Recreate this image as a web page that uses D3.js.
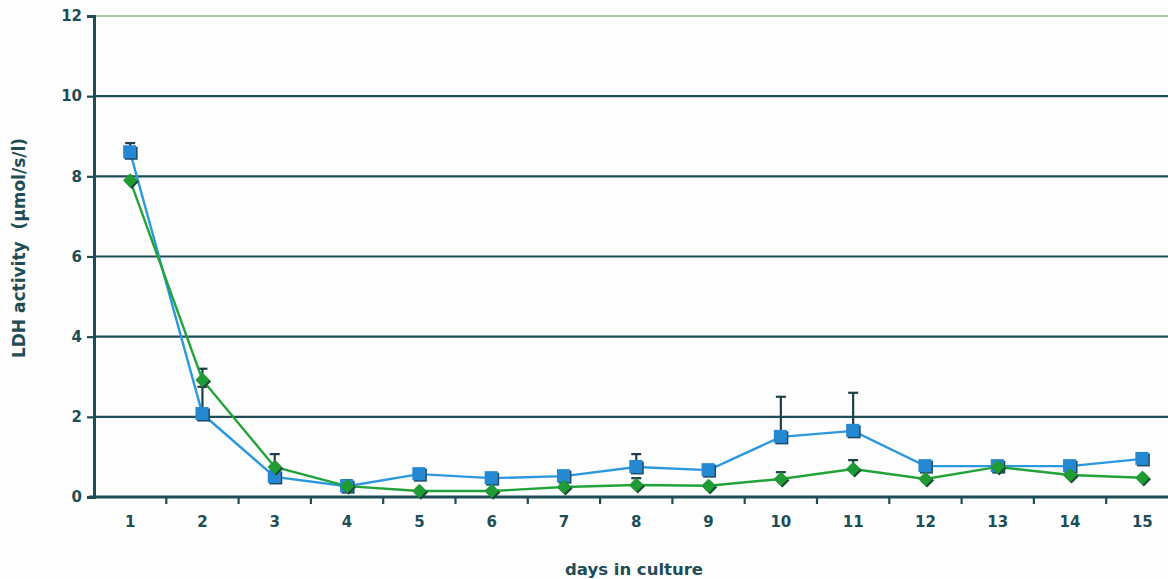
<!DOCTYPE html>
<html>
<head>
<meta charset="utf-8">
<script src="https://cdn.jsdelivr.net/npm/d3@7"></script>
<style>
  html, body { margin: 0; padding: 0; background: #fdfdfe; }
  svg { display: block; }
  text { font-family: "DejaVu Sans", Verdana, sans-serif; font-weight: bold; fill: #1e4d56; white-space: pre; }
</style>
</head>
<body>
<svg id="chart" width="1168" height="579"></svg>
<script>
// Days in culture
const days = [1, 2, 3, 4, 5, 6, 7, 8, 9, 10, 11, 12, 13, 14, 15];
// LDH activity, series A (blue squares) and its upper error
const seriesA = [8.6, 2.07, 0.5, 0.27, 0.57, 0.47, 0.52, 0.75, 0.67, 1.5, 1.65, 0.77, 0.77, 0.77, 0.95];
const errA    = [0.23, 0.68, 0, 0, 0, 0, 0, 0.32, 0, 1.0, 0.95, 0, 0, 0, 0.13];
// LDH activity, series B (green diamonds) and its upper error
const seriesB = [7.9, 2.92, 0.75, 0.27, 0.15, 0.15, 0.25, 0.3, 0.28, 0.45, 0.7, 0.45, 0.75, 0.55, 0.48];
const errB    = [0, 0.28, 0.32, 0.15, 0, 0, 0, 0.17, 0, 0.17, 0.22, 0, 0, 0, 0];
const yTicks = [0, 2, 4, 6, 8, 10, 12];

(function () {
const svg = d3.select("#chart");
const mLeft = 94, mTop = 16, mBottom = 497;
const band = 72.3;
const mRight = mLeft + band * days.length;

const x = d3.scaleBand().domain(days).range([mLeft, mRight]).paddingInner(0).paddingOuter(0);
const y = d3.scaleLinear().domain([0, 12]).range([mBottom, mTop]);
const cx = d => x(d) + x.bandwidth() / 2;

const axisColor = "#1e4d56";

// horizontal gridlines
svg.append("g").selectAll("line").data(yTicks.filter(t => t > 0)).join("line")
  .attr("x1", mLeft).attr("x2", 1168)
  .attr("y1", d => y(d)).attr("y2", d => y(d))
  .attr("stroke", d => d === 12 ? "#a9c9a4" : axisColor)
  .attr("stroke-width", 2.2);

// y axis
const yAxis = svg.append("g").attr("transform", `translate(${mLeft},0)`)
  .call(d3.axisLeft(y).tickValues(yTicks).tickSize(7).tickPadding(5));
yAxis.select(".domain").attr("stroke", axisColor).attr("stroke-width", 3);
yAxis.selectAll(".tick line").attr("stroke", axisColor).attr("stroke-width", 2.2);
yAxis.selectAll(".tick text").style("font-size", "15px").attr("fill", axisColor);

// x axis
const xAxis = svg.append("g").attr("transform", `translate(0,${mBottom})`)
  .call(d3.axisBottom(x).tickSize(0).tickPadding(19));
xAxis.select(".domain").remove();
svg.append("line").attr("x1", mLeft - 5).attr("x2", 1168).attr("y1", mBottom).attr("y2", mBottom)
  .attr("stroke", axisColor).attr("stroke-width", 3);
svg.append("g").selectAll("line").data(days).join("line")
  .attr("x1", d => x(d) + x.bandwidth()).attr("x2", d => x(d) + x.bandwidth())
  .attr("y1", mBottom).attr("y2", mBottom + 7)
  .attr("stroke", axisColor).attr("stroke-width", 2.2);
xAxis.selectAll(".tick text").style("font-size", "15px").attr("fill", axisColor);

// axis titles
svg.append("text").attr("x", 634).attr("y", 575).attr("text-anchor", "middle")
  .style("font-size", "16.5px").text("days in culture");
svg.append("text").attr("transform", "translate(25,248) rotate(-90)").attr("text-anchor", "middle")
  .style("font-size", "17px").text("LDH activity  (µmol/s/l)");

// error bars (upper only)
function errorBars(vals, errs) {
  const g = svg.append("g");
  const data = days.map((d, i) => ({ d, v: vals[i], e: errs[i] })).filter(p => p.e > 0);
  g.selectAll("line.v").data(data).join("line")
    .attr("x1", p => cx(p.d)).attr("x2", p => cx(p.d))
    .attr("y1", p => y(p.v)).attr("y2", p => y(p.v + p.e))
    .attr("stroke", "#1d3f48").attr("stroke-width", 2.2);
  g.selectAll("line.c").data(data).join("line")
    .attr("x1", p => cx(p.d) - 5).attr("x2", p => cx(p.d) + 5)
    .attr("y1", p => y(p.v + p.e)).attr("y2", p => y(p.v + p.e))
    .attr("stroke", "#1d3f48").attr("stroke-width", 2.2);
}
errorBars(seriesA, errA);
errorBars(seriesB, errB);

const line = d3.line().x((d, i) => cx(days[i])).y(d => y(d));

// series A line
svg.append("path").datum(seriesA).attr("d", line)
  .attr("fill", "none").attr("stroke", "#2b97dd").attr("stroke-width", 2.4);
// series B line
svg.append("path").datum(seriesB).attr("d", line)
  .attr("fill", "none").attr("stroke", "#22a33a").attr("stroke-width", 2.4);

// series A squares, with a dark offset shadow
const sq = svg.append("g");
sq.selectAll("rect.s").data(seriesA).join("rect").attr("class", "s")
  .attr("x", (d, i) => cx(days[i]) - 5.5).attr("y", d => y(d) - 5.5)
  .attr("width", 13).attr("height", 13).attr("fill", "#1c4d68");
sq.selectAll("rect.m").data(seriesA).join("rect").attr("class", "m")
  .attr("x", (d, i) => cx(days[i]) - 7).attr("y", d => y(d) - 7)
  .attr("width", 13).attr("height", 13).attr("fill", "#2488d2");

// series B diamonds, with a dark offset shadow
const diamond = d3.symbol().type(d3.symbolDiamond2).size(130);
const dm = svg.append("g");
dm.selectAll("path.s").data(seriesB).join("path").attr("class", "s")
  .attr("transform", (d, i) => `translate(${cx(days[i]) + 1.5},${y(d) + 1.5})`)
  .attr("d", diamond).attr("fill", "#1a4a30");
dm.selectAll("path.m").data(seriesB).join("path").attr("class", "m")
  .attr("transform", (d, i) => `translate(${cx(days[i])},${y(d)})`)
  .attr("d", diamond).attr("fill", "#1f9c34");
})();
</script>
</body>
</html>
